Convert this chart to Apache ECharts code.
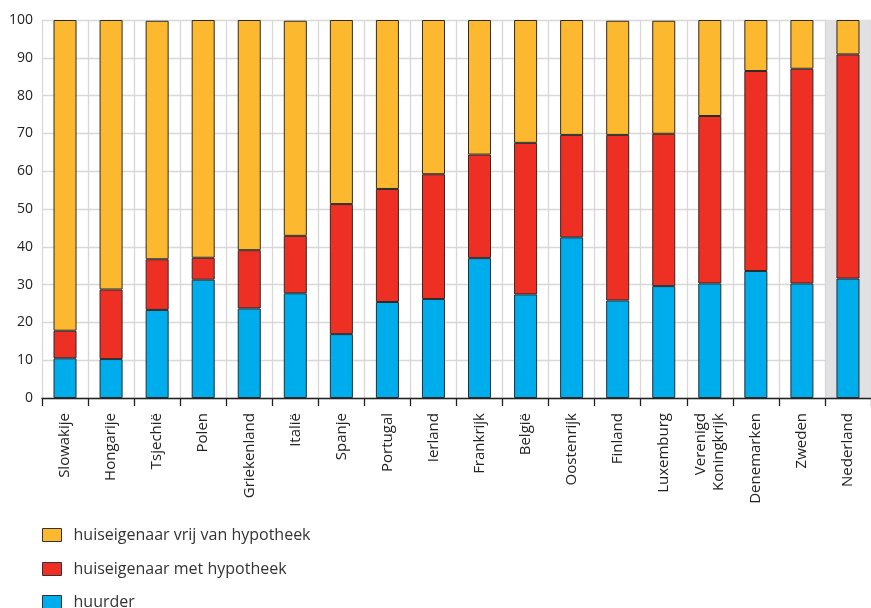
<!DOCTYPE html>
<html>
<head>
<meta charset="utf-8">
<script src="https://cdn.jsdelivr.net/npm/echarts@6/dist/echarts.min.js"></script>
<style>html,body{margin:0;padding:0;background:#fff}#c{width:871px;height:608px}</style>
</head>
<body>
<div id="c"></div>
<script>
var categories = ['Slowakije','Hongarije','Tsjechië','Polen','Griekenland','Italië','Spanje','Portugal','Ierland','Frankrijk','België','Oostenrijk','Finland','Luxemburg','Verenigd\nKoningkrijk','Denemarken','Zweden','Nederland'];
var huurder = [10.5, 10.3, 23.3, 31.3, 23.7, 27.7, 16.9, 25.4, 26.2, 37.0, 27.4, 42.5, 25.8, 29.6, 30.3, 33.6, 30.3, 31.6];
var metHypotheek = [7.3, 18.4, 13.4, 5.8, 15.4, 15.2, 34.4, 29.9, 33.0, 27.4, 40.1, 27.1, 43.8, 40.3, 44.3, 52.9, 56.8, 59.3];
var vrijVanHypotheek = [82.2, 71.3, 63.1, 62.9, 60.9, 56.9, 48.7, 44.7, 40.8, 35.6, 32.5, 30.4, 30.2, 29.9, 25.4, 13.5, 12.9, 9.1];
var yTicks = [0, 10, 20, 30, 40, 50, 60, 70, 80, 90, 100];
var seriesNames = ['huiseigenaar vrij van hypotheek', 'huiseigenaar met hypotheek', 'huurder'];

var splitColors = categories.map(function (c, i) { return i === categories.length - 1 ? '#e1e1e3' : 'rgba(0,0,0,0)'; });
var font = '"Open Sans", sans-serif';
var chart = echarts.init(document.getElementById('c'));
function bar(name, data, color) {
  return {
    name: name, type: 'bar', stack: 'total', data: data, barWidth: '50%',
    itemStyle: { color: color, borderColor: '#2b2b2b', borderWidth: 1 },
    emphasis: { disabled: true }
  };
}
var legendTops = [527, 561, 594];
var legends = seriesNames.map(function (n, i) {
  return {
    orient: 'vertical', left: 42, top: legendTops[i], padding: 0,
    itemWidth: 19, itemHeight: 13,
    data: [n], icon: 'rect',
    itemStyle: { borderColor: '#333', borderWidth: 1 },
    textStyle: { fontFamily: font, fontSize: 16, lineHeight: 13, color: '#333', padding: [0, 0, 0, 7] }
  };
});
chart.setOption({
  animation: false,
  grid: { left: 42, right: 0, top: 20, bottom: 210, containLabel: false },
  legend: legends,
  xAxis: {
    type: 'category', data: categories,
    axisLine: { lineStyle: { color: '#222', width: 1.3 } },
    axisTick: { show: true, length: 8, lineStyle: { color: '#222', width: 1.3 } },
    splitLine: { show: true, lineStyle: { color: '#d8d8d8', width: 1.3 } },
    splitArea: { show: true, areaStyle: { color: splitColors } },
    axisLabel: { rotate: 90, margin: 15, fontFamily: font, fontSize: 15, color: '#222', lineHeight: 18, interval: 0 }
  },
  yAxis: {
    type: 'value', min: 0, max: 100, interval: 10,
    axisLine: { show: false }, axisTick: { show: false },
    splitLine: { lineStyle: { color: '#d8d8d8', width: 1.3 } },
    axisLabel: { margin: 9, fontFamily: font, fontSize: 14, color: '#222',
      formatter: function (v) { return yTicks.indexOf(v) >= 0 ? String(v) : ''; } }
  },
  series: [
    bar('huurder', huurder, '#00adec'),
    bar('huiseigenaar met hypotheek', metHypotheek, '#ee3024'),
    bar('huiseigenaar vrij van hypotheek', vrijVanHypotheek, '#fcb92f')
  ]
});
</script>
</body>
</html>
